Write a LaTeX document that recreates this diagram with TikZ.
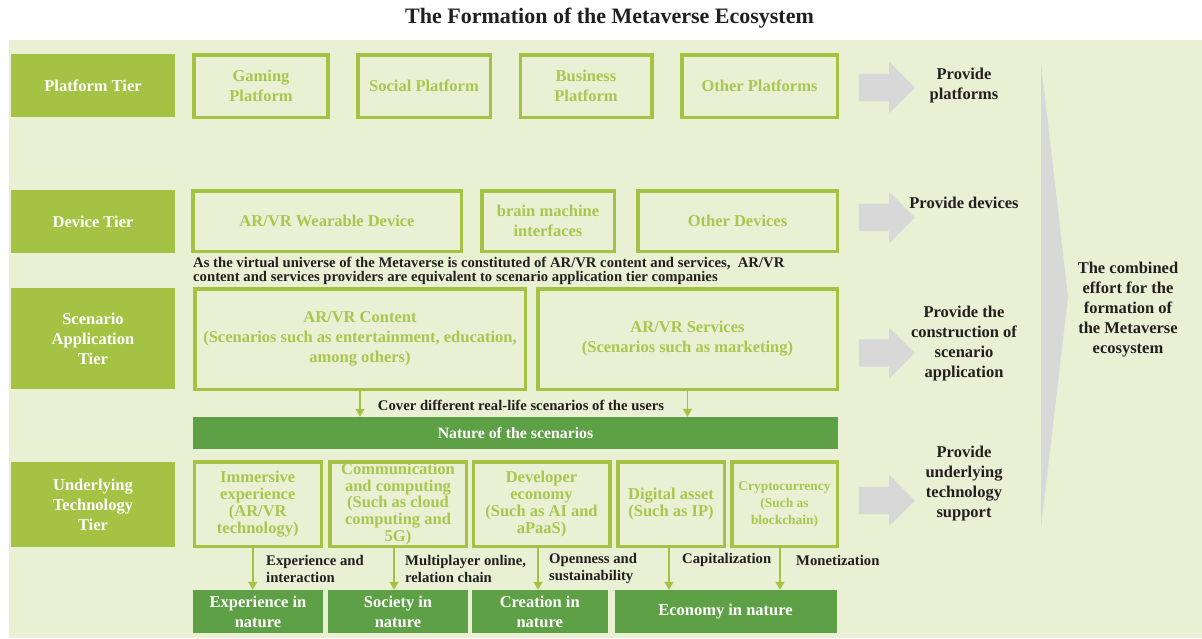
\documentclass[tikz,border=0pt]{standalone}
\usepackage{fontspec}
\setmainfont{Liberation Serif}
\usetikzlibrary{arrows.meta,shapes.arrows}
\definecolor{paleg}{RGB}{233,240,212}
\definecolor{olive}{RGB}{164,194,67}
\definecolor{olivetxt}{RGB}{170,198,78}
\definecolor{darkg}{RGB}{94,160,70}
\definecolor{lgray}{RGB}{216,216,216}
\definecolor{ink}{RGB}{35,31,32}
\begin{document}
\begin{tikzpicture}[x=1pt,y=-1pt,
  big/.style={font={\fontsize{16.5}{20}\selectfont\bfseries}},
  small/.style={font={\fontsize{14.7}{17}\selectfont\bfseries}},
  tier/.style={big,fill=olive,text=white,align=center,inner sep=0,minimum width=163.5pt},
  outbox/.style={big,draw=olive,line width=3.5pt,fill=paleg,text=olivetxt,align=center,inner sep=0},
  techbox/.style={outbox,font={\fontsize{16.5}{16.8}\selectfont\bfseries},minimum height=84.5pt},
  naturebox/.style={big,fill=darkg,text=white,align=center,inner sep=0,minimum height=43pt},
  provide/.style={big,text=ink,align=center},
  lbl/.style={small,text=ink,align=left,anchor=west,inner sep=0},
  garrow/.style={single arrow,fill=lgray,inner xsep=0,inner ysep=13.5pt,minimum height=56pt,
    single arrow head extend=12pt,single arrow tip angle=90},
  sarrow/.style={draw=olive,line width=1.5pt,-{Triangle[width=9pt,length=8pt]}}]
\useasboundingbox (0,0) rectangle (1202,638);
\fill[paleg] (9,40) rectangle (1202,638);
\node (title) at (609.5,18) [font={\fontsize{22}{26}\selectfont\bfseries},text=ink] {The Formation of the Metaverse Ecosystem};
\fill[lgray] (1041,63) -- (1068,297) -- (1041,527) -- cycle;
\node (combined) at (1128,310) [provide] {The combined\\effort for the\\formation of\\the Metaverse\\ecosystem};
\node (plattier) at (93,85.5) [tier,minimum height=63pt] {Platform Tier};
\node (devtier) at (93,221.5) [tier,minimum height=63pt] {Device Tier};
\node (scentier) at (93,338.5) [tier,minimum height=101pt] {Scenario\\Application\\Tier};
\node (techtier) at (93,504.5) [tier,minimum height=85pt] {Underlying\\Technology\\Tier};
\node (gaming) at (261,86) [outbox,minimum width=134pt,minimum height=62.5pt] {Gaming\\Platform};
\node (social) at (424,86) [outbox,minimum width=132.5pt,minimum height=62.5pt] {Social Platform};
\node (business) at (586,86) [outbox,minimum width=131.5pt,minimum height=62.5pt] {Business\\Platform};
\node (otherplat) at (759.5,86) [outbox,minimum width=155.5pt,minimum height=62.5pt] {Other Platforms};
\node (wearable) at (327,221) [outbox,minimum width=268.5pt,minimum height=60.5pt] {AR/VR Wearable Device};
\node (brain) at (548,221) [outbox,minimum width=132.5pt,minimum height=60.5pt] {brain machine\\interfaces};
\node (otherdev) at (737.5,221) [outbox,minimum width=199.5pt,minimum height=60.5pt] {Other Devices};
\node (note) at (193,271) [lbl,font={\fontsize{14.7}{12}\selectfont\bfseries}] {As the virtual universe of the Metaverse is constituted of AR/VR content and services,\ \ AR/VR\\content and services providers are equivalent to scenario application tier companies};
\node (content) at (360,339) [outbox,minimum width=330.5pt,minimum height=100.5pt] {AR/VR Content\\(Scenarios such as entertainment, education,\\among others)};
\node (services) at (687.5,339) [outbox,minimum width=299.5pt,minimum height=100.5pt] {AR/VR Services\\(Scenarios such as marketing)};
\node (scenes) at (515.5,433) [naturebox,minimum width=645pt,minimum height=32pt,font={\fontsize{15.8}{18}\selectfont\bfseries}] {Nature of the scenarios};
\node (cover) at (521,405) [small,text=ink] {Cover different real-life scenarios of the users};
\draw[sarrow] (content.south) -- (content.south |- scenes.north);
\draw[sarrow] (services.south) -- (services.south |- scenes.north);
\node (immersive) at (257.75,504) [techbox,minimum width=127pt] {Immersive\\experience\\(AR/VR\\technology)};
\node (comm) at (398,504) [techbox,minimum width=136.5pt] {Communication\\and computing\\(Such as cloud\\computing and\\5G)};
\node (devecon) at (541.5,504) [techbox,minimum width=136.5pt] {Developer\\economy\\(Such as AI and\\aPaaS)};
\node (digital) at (671,504) [techbox,minimum width=106.5pt] {Digital asset\\(Such as IP)};
\node (crypto) at (784.5,504) [techbox,minimum width=105.5pt,font={\fontsize{13.4}{17}\selectfont\bfseries}] {Cryptocurrency\\(Such as\\blockchain)};
\node (expnat) at (258,611.5) [naturebox,minimum width=130pt] {Experience in\\nature};
\node (socnat) at (398,611.5) [naturebox,minimum width=140pt] {Society in\\nature};
\node (crenat) at (539.75,611.5) [naturebox,minimum width=136.5pt] {Creation in\\nature};
\node (econat) at (725.5,611.5) [naturebox,minimum width=222pt] {Economy in nature};
\draw[sarrow] ([xshift=-5pt]immersive.south) -- ([xshift=-5pt]immersive.south |- expnat.north);
\draw[sarrow] ([xshift=-4pt]comm.south) -- ([xshift=-4pt]comm.south |- socnat.north);
\draw[sarrow] ([xshift=-3.5pt]devecon.south) -- ([xshift=-3.5pt]devecon.south |- crenat.north);
\draw[sarrow] ([xshift=-2pt]digital.south) -- ([xshift=-2pt]digital.south |- econat.north);
\draw[sarrow] ([xshift=-4.5pt]crypto.south) -- ([xshift=-4.5pt]crypto.south |- econat.north);
\node (lexp) at (266,568.5) [lbl] {Experience and\\interaction};
\node (lsoc) at (405,568.5) [lbl] {Multiplayer online,\\relation chain};
\node (lcre) at (549,568.5) [lbl] {Openness and\\sustainability};
\node (lcap) at (682,560) [lbl] {Capitalization};
\node (lmon) at (796,560) [lbl] {Monetization};
\node (arrplat) at (880,87.5) [garrow] {};
\node (arrdev) at (880,217.5) [garrow] {};
\node (arrscen) at (880,353) [garrow] {};
\node (arrtech) at (880,500.5) [garrow] {};
\node (pplat) at (964,86) [provide] {Provide\\platforms};
\node (pdev) at (964,203) [provide] {Provide devices};
\node (pscen) at (964,343.5) [provide] {Provide the\\construction of\\scenario\\application};
\node (ptech) at (964,483.5) [provide] {Provide\\underlying\\technology\\support};
\end{tikzpicture}
\end{document}
